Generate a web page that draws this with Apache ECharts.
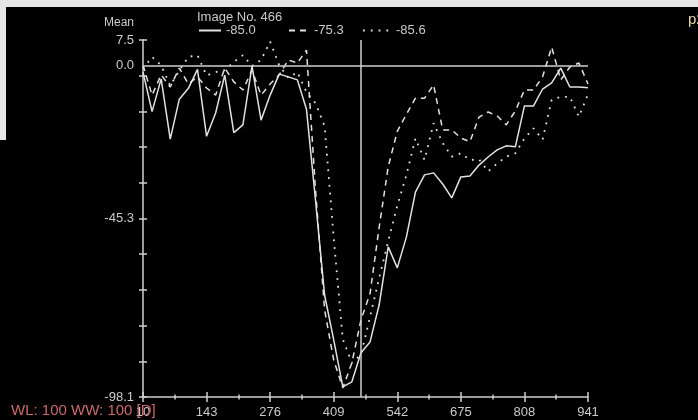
<!DOCTYPE html>
<html>
<head>
<meta charset="utf-8">
<script src="https://cdn.jsdelivr.net/npm/echarts@6/dist/echarts.min.js"></script>
<style>
html, body { margin: 0; padding: 0; background: #000; }
#main { width: 698px; height: 420px; }
</style>
</head>
<body>
<div id="main"></div>
<script>
// image numbers along x
var imageNo = [10, 29, 48, 67, 86, 105, 124, 143, 162, 181, 200, 219, 238, 257, 276, 295, 314, 333, 352, 371,
  390, 409, 428, 447, 466, 485, 504, 523, 542, 561, 580, 599, 618, 637, 656, 675, 694, 713, 732, 751,
  770, 789, 808, 827, 846, 865, 884, 903, 922, 941];

var meanSolid = [-2, -13.7, -4.0, -21.8, -10.0, -6.8, -1.2, -21.0, -14.1, -2.9, -19.9, -17.6, -0.2, -16.2, -8.8, -2.6, -3.4, -4.3, -13.0, -40,
  -68, -81.2, -95.1, -93.6, -85.0, -81.8, -70.9, -53.7, -59.9, -50.8, -37.5, -32.4, -31.8, -35.1, -39.2, -33.0, -32.7, -29.5, -27.1, -25.0,
  -23.8, -24.1, -12.0, -12.0, -7.0, -5.2, -0.8, -6.4, -6.4, -6.6];

var meanDashed = [0, -8.8, -2.8, -6.4, -0.8, -5.5, -3.4, -6.7, -8.8, -0.8, -4.9, -7.3, -1.4, -8.8, -5.5, -2.8, 1.6, 0.7, 4.5, -37,
  -72.4, -87.2, -95.4, -88, -75.3, -67.5, -48, -30, -19.5, -14.5, -9.7, -9.7, -5.8, -19.1, -19.1, -21.5, -22.6, -15.3, -13.8, -15.0,
  -17.6, -13.5, -7.3, -7.3, -3.4, 5.4, -4.3, -0.5, 0.7, -5.5];

var meanDotted = [-1, 2.5, 0, -6, -1.5, 2.5, 3, -3, -2, -1.4, 1, 3, -0.2, 1.6, 7, 0, -3.7, -2, -7.9, -11.2,
  -18, -51, -81, -88, -85.6, -74.4, -63, -52, -41.5, -32.5, -21.6, -28.0, -17.1, -23.0, -27.0, -26.0, -28.0, -27.8, -31.4, -29.0,
  -27.0, -26.0, -21.6, -18.6, -22.0, -10.2, -9.3, -9.3, -15.2, -8.5];

var seriesNames = ['-85.0', '-75.3', '-85.6'];
var markerImage = 466;

var xMajor = [10, 143, 276, 409, 542, 675, 808, 941];
var xMinor = [76.5, 209.5, 342.5, 475.5, 608.5, 741.5, 874.5];
var yTicks = [-98.1, -87.54, -76.98, -66.42, -55.86, -45.3, -34.74, -24.18, -13.62, -3.06, 7.5];
var yLabels = [7.5, 0, -45.3, -98.1];

var font = 'Liberation Sans, Arial, sans-serif';
var lineColor = '#e2e2e2';
var axisColor = '#cfcfcf';
var textColor = '#cacaca';

function pairs(arr) {
  return arr.map(function (v, i) { return [imageNo[i], v]; });
}

var myEchart = echarts.init(document.getElementById('main'));

var hiddenX = function (offset, len, values) {
  return {
    type: 'value', min: 10, max: 941, position: 'bottom', offset: offset,
    axisLine: { show: false, onZero: false }, splitLine: { show: false }, axisLabel: { show: false },
    axisTick: { show: true, inside: true, length: len, customValues: values,
      lineStyle: { color: axisColor, width: 1.5 } }
  };
};

var legendBase = function (name, left, w) {
  return {
    data: [name], left: left, top: 19, itemWidth: w, itemHeight: 14, itemGap: 0,
    itemStyle: { opacity: 0 },
    textStyle: { color: textColor, fontSize: 13, fontFamily: font }
  };
};

var option = {
  backgroundColor: '#000',
  animation: false,
  title: {
    text: 'Image No. 466',
    left: 192, top: 6,
    textStyle: { color: textColor, fontSize: 13, fontWeight: 'normal', fontFamily: font }
  },
  legend: [
    legendBase(seriesNames[0], 193, 22),
    legendBase(seriesNames[1], 283, 20),
    legendBase(seriesNames[2], 357, 28)
  ],
  grid: { left: 143, right: 110, top: 40, bottom: 23, containLabel: false },
  xAxis: [
    {
      type: 'value', min: 10, max: 941, position: 'bottom',
      axisLine: { onZero: false, lineStyle: { color: axisColor, width: 1.5 } },
      axisTick: { show: false },
      splitLine: { show: false },
      axisLabel: { customValues: xMajor, color: textColor, fontSize: 13, fontFamily: font, margin: 9 }
    },
    hiddenX(5, 10, xMajor),
    hiddenX(2.5, 5, xMinor)
  ],
  yAxis: [
    {
      type: 'value', min: -98.1, max: 7.5, position: 'left',
      axisLine: { show: true, onZero: false, lineStyle: { color: axisColor, width: 1.5 } },
      axisTick: { show: false },
      splitLine: { show: false },
      axisLabel: {
        customValues: yLabels, color: textColor, fontSize: 13, fontFamily: font, margin: 9,
        formatter: function (v) { return v.toFixed(1); }
      }
    },
    {
      type: 'value', min: -98.1, max: 7.5, position: 'left', offset: 4,
      axisLine: { show: false, onZero: false }, splitLine: { show: false }, axisLabel: { show: false },
      axisTick: { show: true, inside: true, length: 8, customValues: yTicks,
        lineStyle: { color: axisColor, width: 1.5 } }
    }
  ],
  series: [
    {
      name: seriesNames[0], type: 'line', data: pairs(meanSolid), symbol: 'none',
      lineStyle: { color: lineColor, width: 1.5, type: 'solid' },
      itemStyle: { color: lineColor },
      markLine: {
        silent: true, symbol: 'none', label: { show: false },
        lineStyle: { color: axisColor, width: 1.5, type: 'solid' },
        data: [{ xAxis: markerImage }, { yAxis: 0 }]
      }
    },
    {
      name: seriesNames[1], type: 'line', data: pairs(meanDashed), symbol: 'none',
      lineStyle: { color: lineColor, width: 1.5, type: [6, 5] },
      itemStyle: { color: lineColor }
    },
    {
      name: seriesNames[2], type: 'line', data: pairs(meanDotted), symbol: 'none',
      lineStyle: { color: lineColor, width: 1.8, type: [1.8, 6] },
      itemStyle: { color: lineColor }
    }
  ],
  graphic: [
    { type: 'rect', shape: { x: 0, y: 0, width: 698, height: 7 }, style: { fill: '#e6e6e6' }, z: 100 },
    { type: 'rect', shape: { x: 0, y: 0, width: 6, height: 140 }, style: { fill: '#e6e6e6' }, z: 100 },
    { type: 'text', x: 119, y: 23, style: { text: 'Mean', fill: textColor, font: '12px ' + font, align: 'center', verticalAlign: 'middle' }, z: 100 },
    { type: 'text', x: 688, y: 20, style: { text: 'p2', fill: '#e4d6a2', font: '15px ' + font, align: 'left', verticalAlign: 'middle' }, z: 100 },
    { type: 'text', x: 11, y: 411, style: { text: 'WL: 100 WW: 100 [D]', fill: '#cc6a6a', font: '15px ' + font, align: 'left', verticalAlign: 'middle' }, z: 100 }
  ]
};

option && myEchart.setOption(option);
</script>
</body>
</html>
